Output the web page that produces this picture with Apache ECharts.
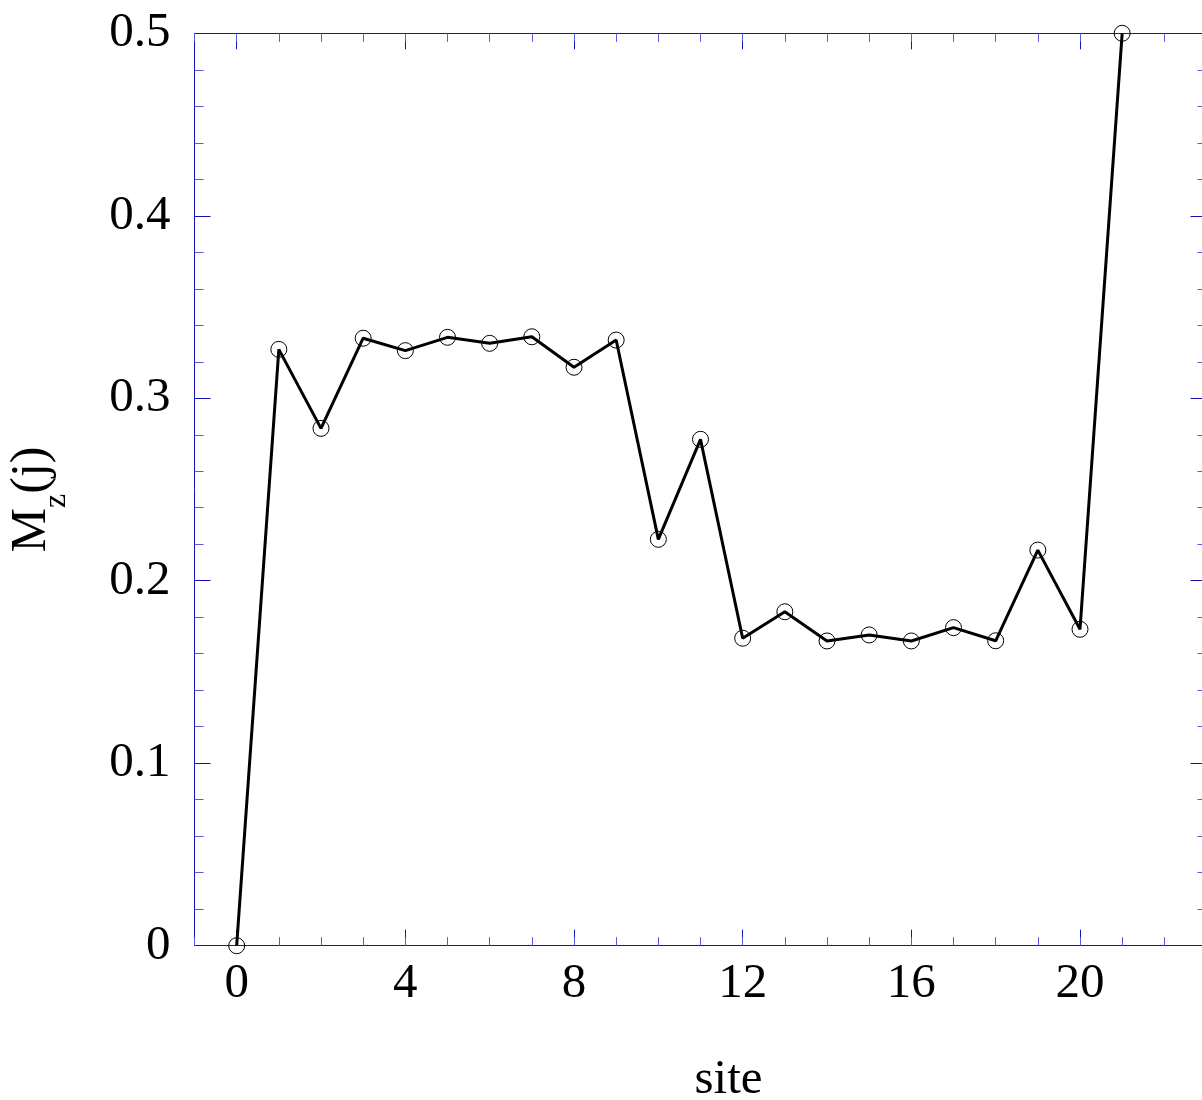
<!DOCTYPE html>
<html>
<head>
<meta charset="utf-8">
<script src="https://cdn.jsdelivr.net/npm/echarts@6/dist/echarts.min.js"></script>
<style>
html,body{margin:0;padding:0;background:#fff;}
#chart{width:1202px;height:1100px;}
</style>
</head>
<body>
<div id="chart"></div>
<script>
// ---- data ----
const sites = [0,1,2,3,4,5,6,7,8,9,10,11,12,13,14,15,16,17,18,19,20,21];
const mz = [0, 0.3268, 0.2835, 0.3329, 0.3261, 0.3334, 0.3301, 0.3337, 0.3170, 0.3319,
            0.2227, 0.2775, 0.1685, 0.1830, 0.1670, 0.1703, 0.1670, 0.1743, 0.1671,
            0.2168, 0.1734, 0.5];
const xMajorTicks = [0, 4, 8, 12, 16, 20];
const xMinorTicks = [-1,0,1,2,3,4,5,6,7,8,9,10,11,12,13,14,15,16,17,18,19,20,21,22,23];
const xLabel = 'site';

const FONT = 'Liberation Serif';
const AX = '#1414b4';
const MINOR = '#5a5ae0';

const points = sites.map((s, i) => [s, mz[i]]);

function xAxisDef(pos, ticks, len, showLabel, color, extra) {
  return Object.assign({
    type: 'value', position: pos, min: -1, max: 23,
    axisLine: { show: true, onZero: false, lineStyle: { color: AX, width: 1 } },
    axisTick: { show: true, inside: true, length: len, customValues: ticks, lineStyle: { color: color, width: 1 } },
    axisLabel: showLabel ? { show: true, customValues: xMajorTicks, margin: 14, fontFamily: FONT, fontSize: 49, color: '#000' } : { show: false },
    splitLine: { show: false }
  }, extra || {});
}

function yAxisDef(pos, showLabel, extra) {
  return Object.assign({
    type: 'value', position: pos, min: 0, max: 0.5, interval: 0.1,
    axisLine: { show: true, onZero: false, lineStyle: { color: AX, width: 1 } },
    axisTick: { show: true, inside: true, length: 16, lineStyle: { color: AX, width: 1 } },
    minorTick: { show: true, splitNumber: 5, length: 9, lineStyle: { color: MINOR, width: 1 } },
    axisLabel: showLabel ? { show: true, margin: 24, fontFamily: FONT, fontSize: 49, color: '#000' } : { show: false },
    splitLine: { show: false },
    minorSplitLine: { show: false }
  }, extra || {});
}

const chart = echarts.init(document.getElementById('chart'), null, { renderer: 'canvas' });
chart.setOption({
  animation: false,
  backgroundColor: '#fff',
  grid: { left: 194.5, top: 33.3, width: 1012, height: 912.4, containLabel: false, outerBoundsMode: 'none' },
  xAxis: [
    xAxisDef('bottom', xMajorTicks, 16, true, AX, {
      name: xLabel, nameLocation: 'middle', nameGap: 110,
      nameTextStyle: { fontFamily: FONT, fontSize: 49, color: '#000', padding: [0, 0, 0, 56] }
    }),
    xAxisDef('bottom', xMinorTicks, 8.5, false, MINOR),
    xAxisDef('top', xMajorTicks, 16, false, AX),
    xAxisDef('top', xMinorTicks, 8.5, false, MINOR)
  ],
  yAxis: [
    yAxisDef('left', true, {
      name: '{a|M}{b|z}{a|(j)}', nameLocation: 'middle', nameGap: 138, nameRotate: 90,
      nameTextStyle: {
        fontFamily: FONT, fontSize: 50, color: '#000', padding: [0, 20, 0, 0],
        rich: {
          a: { fontFamily: FONT, fontSize: 50, color: '#000', verticalAlign: 'bottom', lineHeight: 60 },
          b: { fontFamily: FONT, fontSize: 32, color: '#000', verticalAlign: 'bottom', lineHeight: 60, padding: [0, 0, -16, 0] }
        }
      }
    }),
    yAxisDef('right', false)
  ],
  series: [{
    type: 'line',
    xAxisIndex: 0, yAxisIndex: 0,
    data: points,
    lineStyle: { color: '#000', width: 3 },
    symbol: 'circle', symbolSize: 16,
    itemStyle: { color: 'rgba(0,0,0,0)', borderColor: '#000', borderWidth: 1 },
    clip: false,
    z: 3
  }]
});
</script>
</body>
</html>
